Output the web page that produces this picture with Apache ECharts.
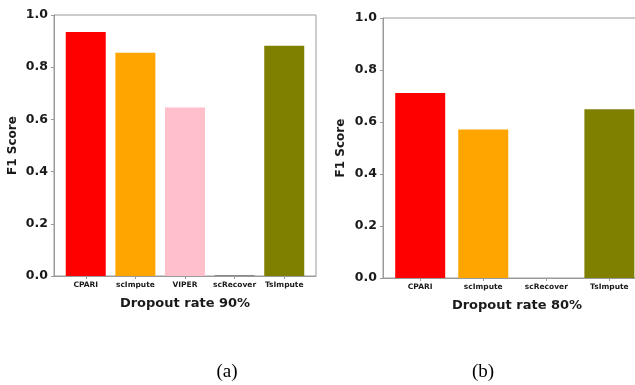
<!DOCTYPE html>
<html>
<head>
<meta charset="utf-8">
<script src="https://cdn.jsdelivr.net/npm/echarts@6/dist/echarts.min.js"></script>
<style>
  html, body { margin: 0; padding: 0; background: #fff; }
  #chart { width: 635px; height: 385px; }
</style>
</head>
<body>
<div id="chart"></div>
<script>
// F1 scores of imputation methods at two dropout rates
const methods90 = ['CPARI', 'scImpute', 'VIPER', 'scRecover', 'TsImpute'];
const f1Scores90 = [0.935, 0.855, 0.646, 0.004, 0.882];
const colors90 = ['#ff0000', '#ffa500', '#ffc0cb', '#8a8a8a', '#808000'];

const methods80 = ['CPARI', 'scImpute', 'scRecover', 'TsImpute'];
const f1Scores80 = [0.712, 0.571, 0.0, 0.649];
const colors80 = ['#ff0000', '#ffa500', '#8a8a8a', '#808000'];

const FONT = 'DejaVu Sans';
const AXIS_COLOR = '#9a9a9a';
const TEXT_COLOR = '#1a1a1a';

function barData(values, colors) {
  return values.map((v, i) => ({ value: [i, v], itemStyle: { color: colors[i] } }));
}

function xAxisFor(gridIndex, names, min, max, title) {
  const idx = names.map((_, i) => i);
  return {
    gridIndex, type: 'value', min, max,
    name: title, nameLocation: 'middle', nameGap: 21,
    nameTextStyle: { fontFamily: FONT, fontWeight: 'bold', fontSize: 13, color: TEXT_COLOR },
    axisLine: { show: true, onZero: false, lineStyle: { color: AXIS_COLOR, width: 1 } },
    axisTick: { show: true, length: 3, customValues: idx, lineStyle: { color: AXIS_COLOR } },
    axisLabel: {
      customValues: idx, margin: 5,
      fontFamily: FONT, fontWeight: 'bold', fontSize: 7.5, color: TEXT_COLOR,
      formatter: v => names[Math.round(v)]
    },
    splitLine: { show: false }
  };
}

function yAxisFor(gridIndex, nameGap) {
  return {
    gridIndex, type: 'value', min: 0, max: 1, interval: 0.2,
    name: 'F1 Score', nameLocation: 'middle', nameGap, nameRotate: 90,
    nameTextStyle: { fontFamily: FONT, fontWeight: 'bold', fontSize: 12, color: TEXT_COLOR },
    axisLine: { show: true, onZero: false, lineStyle: { color: AXIS_COLOR, width: 1 } },
    axisTick: { show: true, length: 3, lineStyle: { color: AXIS_COLOR } },
    axisLabel: {
      margin: 6, fontFamily: FONT, fontWeight: 'bold', fontSize: 12.5, color: TEXT_COLOR,
      formatter: v => v.toFixed(1)
    },
    splitLine: { show: false }
  };
}

const gridBase = {
  show: true, borderColor: AXIS_COLOR, borderWidth: 1,
  backgroundColor: 'transparent', outerBoundsMode: 'none', containLabel: false
};

const chart = echarts.init(document.getElementById('chart'), null, { renderer: 'canvas' });
chart.setOption({
  animation: false,
  backgroundColor: '#ffffff',
  title: [
    { text: '(a)', left: 222, top: 358, textAlign: 'center',
      textStyle: { fontFamily: 'Liberation Serif', fontWeight: 'normal', fontSize: 19, color: '#000' } },
    { text: '(b)', left: 478, top: 358, textAlign: 'center',
      textStyle: { fontFamily: 'Liberation Serif', fontWeight: 'normal', fontSize: 19, color: '#000' } }
  ],
  grid: [
    Object.assign({ left: 54, top: 15, width: 262, height: 261 }, gridBase),
    Object.assign({ left: 383, top: 18, width: 268, height: 260 }, gridBase)
  ],
  xAxis: [
    xAxisFor(0, methods90, -0.64, 4.64, 'Dropout rate 90%'),
    xAxisFor(1, methods80, -0.59, 3.66, 'Dropout rate 80%')
  ],
  yAxis: [
    yAxisFor(0, 35),
    yAxisFor(1, 36)
  ],
  series: [
    { type: 'bar', xAxisIndex: 0, yAxisIndex: 0, barWidth: 40, data: barData(f1Scores90, colors90) },
    { type: 'bar', xAxisIndex: 1, yAxisIndex: 1, barWidth: 50, data: barData(f1Scores80, colors80) }
  ]
});
</script>
</body>
</html>
